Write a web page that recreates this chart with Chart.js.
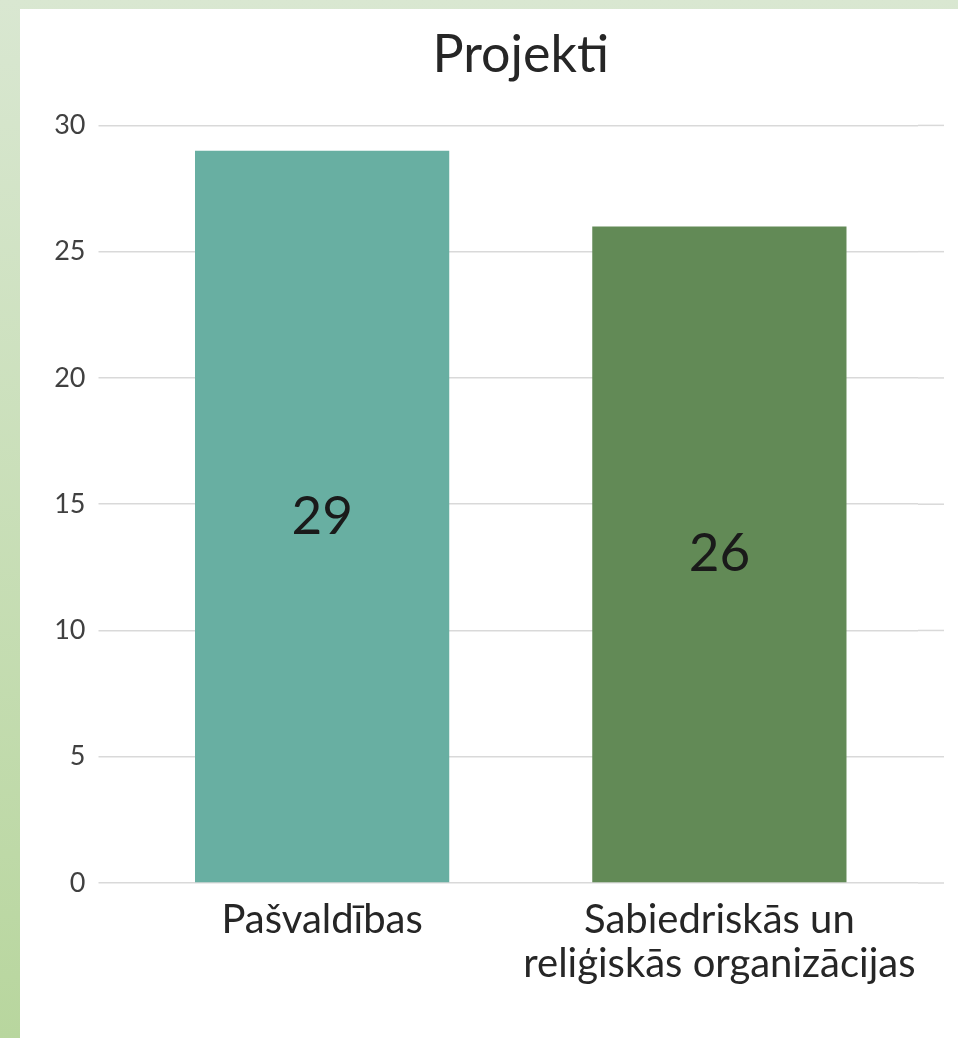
<!DOCTYPE html>
<html>
<head>
<meta charset="utf-8">
<script src="https://cdn.jsdelivr.net/npm/chart.js@4.4.1/dist/chart.umd.min.js"></script>
<style>
  html, body { margin: 0; padding: 0; }
  body {
    width: 958px; height: 1038px; overflow: hidden; position: relative;
    background: linear-gradient(to bottom, #d9e7d1, #b8d69e);
  }
  #panel { position: absolute; left: 20px; top: 9px; right: 0; bottom: 0; background: #fff; }
  #wrap { position: absolute; left: 0; top: 0; width: 958px; height: 1038px; }
</style>
</head>
<body>
<div id="panel"></div>
<div id="wrap"><canvas id="chart" width="958" height="1038"></canvas></div>
<script>
// dati
const categories = ['Pašvaldības', ['Sabiedriskās un', 'reliģiskās organizācijas']];
const projectCounts = [29, 26];
const barColors = ['#68AFA2', '#628A56'];
const yTicks = [0, 5, 10, 15, 20, 25, 30];

// gridlīnijas turpinās mazliet pa labi no zīmēšanas laukuma
const gridExtend = {
  id: 'gridExtend',
  beforeDatasetsDraw(chart) {
    const { ctx, chartArea, scales } = chart;
    ctx.save();
    ctx.strokeStyle = '#d9d9d9';
    ctx.lineWidth = 1.5;
    yTicks.forEach(v => {
      const y = scales.y.getPixelForValue(v);
      ctx.beginPath();
      ctx.moveTo(chartArea.right, y);
      ctx.lineTo(chartArea.right + 26, y);
      ctx.stroke();
    });
    ctx.restore();
  }
};

// vērtības stabiņu vidū
const valueLabels = {
  id: 'valueLabels',
  afterDatasetsDraw(chart) {
    const { ctx } = chart;
    const meta = chart.getDatasetMeta(0);
    ctx.save();
    ctx.font = '53px Lato';
    ctx.fillStyle = '#1a1a1a';
    ctx.textAlign = 'center';
    ctx.textBaseline = 'middle';
    meta.data.forEach((bar, i) => {
      ctx.fillText(String(projectCounts[i]), bar.x, (bar.y + bar.base) / 2);
    });
    ctx.restore();
  }
};

new Chart(document.getElementById('chart').getContext('2d'), {
  type: 'bar',
  data: {
    labels: categories,
    datasets: [{
      data: projectCounts,
      backgroundColor: barColors,
      borderWidth: 0,
      barPercentage: 0.64,
      categoryPercentage: 1
    }]
  },
  options: {
    responsive: false,
    animation: false,
    layout: { padding: { left: 30, right: 40, top: 0, bottom: 45 } },
    plugins: {
      legend: { display: false },
      tooltip: { enabled: false },
      title: {
        display: true,
        fullSize: false,
        text: 'Projekti',
        color: '#262626',
        font: { family: 'Lato', size: 52, weight: 'normal' },
        padding: { top: 24, bottom: 39 }
      }
    },
    scales: {
      x: {
        grid: { display: false },
        border: { display: false },
        ticks: {
          color: '#262626',
          font: { family: 'Lato', size: 40, lineHeight: 1.1 },
          padding: 7,
          maxRotation: 0,
          autoSkip: false
        }
      },
      y: {
        min: 0,
        max: 30,
        afterFit(scale) { scale.width = 93.5; },
        grid: { color: '#d9d9d9', lineWidth: 1.5, tickLength: 25, drawTicks: true },
        border: { display: false },
        ticks: {
          stepSize: 5,
          color: '#404040',
          font: { family: 'Lato', size: 27 },
          padding: 13
        }
      }
    }
  },
  plugins: [gridExtend, valueLabels]
});
</script>
</body>
</html>
